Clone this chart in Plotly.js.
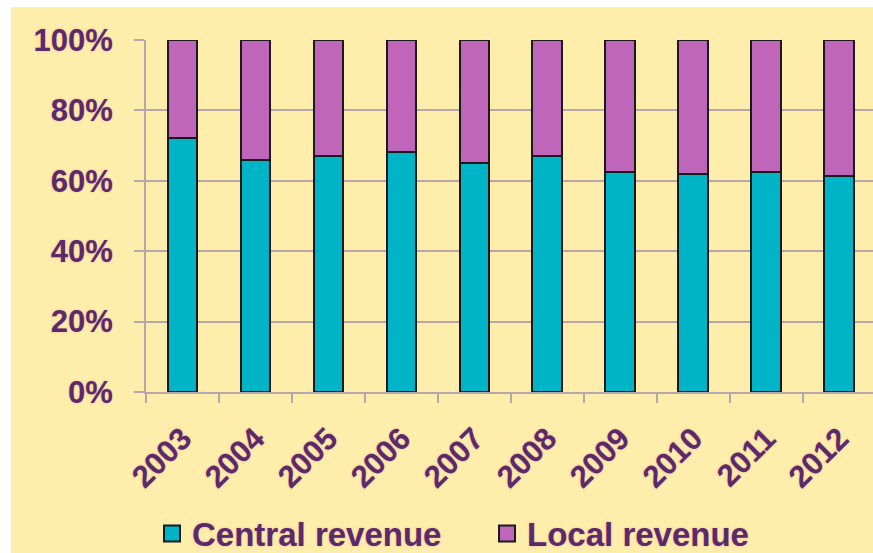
<!DOCTYPE html>
<html>
<head>
<meta charset="utf-8">
<script src="https://cdn.plot.ly/plotly-3.0.1.min.js"></script>
<style>
  html, body { margin: 0; padding: 0; background: #ffffff; }
  #chart { position: absolute; left: 11px; top: 7px; width: 862px; height: 546px; }
</style>
</head>
<body>
<div id="chart"></div>
<script>
const years = ["2003","2004","2005","2006","2007","2008","2009","2010","2011","2012"];
const centralShare = [0.723, 0.658, 0.670, 0.682, 0.652, 0.670, 0.625, 0.618, 0.625, 0.613];
const localShare = centralShare.map(v => 1 - v);
const seriesNames = ["Central revenue", "Local revenue"];
const seriesColors = ["#00b4c8", "#bf66ba"];

const textColor = "#5b2a6b";
const gridColor = "#b6a7aa";
const bg = "#ffedab";
const fontFam = "Liberation Sans, Arial, sans-serif";
const shadow = "0px 0px 2px rgba(200,80,140,0.45)";

const traces = [
  {
    type: "bar", x: years, y: centralShare, name: seriesNames[0],
    marker: { color: seriesColors[0], line: { color: "#1a1a1a", width: 2 } },
    showlegend: false, hoverinfo: "x+y"
  },
  {
    type: "bar", x: years, y: localShare, name: seriesNames[1],
    marker: { color: seriesColors[1], line: { color: "#1a1a1a", width: 2 } },
    showlegend: false, hoverinfo: "x+y"
  },
  {
    type: "scatter", mode: "markers", x: [null], y: [null], name: seriesNames[0],
    marker: { symbol: "square", size: 16, color: seriesColors[0], line: { color: "#1a1a1a", width: 2 } }
  },
  {
    type: "scatter", mode: "markers", x: [null], y: [null], name: seriesNames[1],
    marker: { symbol: "square", size: 16, color: seriesColors[1], line: { color: "#1a1a1a", width: 2 } }
  }
];

const layout = {
  width: 862, height: 546,
  margin: { l: 135, r: 0, t: 33, b: 161, autoexpand: false },
  paper_bgcolor: bg, plot_bgcolor: bg,
  barmode: "stack", bargap: 0.59,
  font: { family: fontFam, color: textColor },
  xaxis: {
    type: "category", range: [-0.5, 9.46], automargin: false,
    showgrid: false, showline: true, linecolor: gridColor, linewidth: 2,
    ticks: "outside", ticklen: 9, tickwidth: 2, tickcolor: gridColor,
    tickson: "boundaries", tickangle: -45, ticklabelstandoff: 14,
    tickfont: { size: 31, family: fontFam, color: textColor, weight: "bold", shadow: shadow },
    zeroline: false, fixedrange: true
  },
  yaxis: {
    range: [0, 1], tickvals: [0, 0.2, 0.4, 0.6, 0.8, 1.0], tickformat: ".0%", automargin: false,
    showgrid: true, gridcolor: gridColor, gridwidth: 2,
    showline: true, linecolor: gridColor, linewidth: 2,
    ticks: "outside", ticklen: 10, tickwidth: 2, tickcolor: gridColor,
    ticklabelstandoff: 15,
    tickfont: { size: 31, family: fontFam, color: textColor, weight: "bold", shadow: shadow },
    zeroline: false, fixedrange: true
  },
  showlegend: true,
  legend: {
    orientation: "h", xref: "container", x: 0.1636, xanchor: "left",
    yref: "paper", y: -0.402, yanchor: "middle",
    bgcolor: "rgba(0,0,0,0)",
    font: { size: 33, family: fontFam, color: textColor, weight: "bold", shadow: shadow },
    itemwidth: 30, traceorder: "normal",
    entrywidth: 290, entrywidthmode: "pixels"
  }
};

Plotly.newPlot("chart", traces, layout, { displayModeBar: false, staticPlot: true });
</script>
</body>
</html>
